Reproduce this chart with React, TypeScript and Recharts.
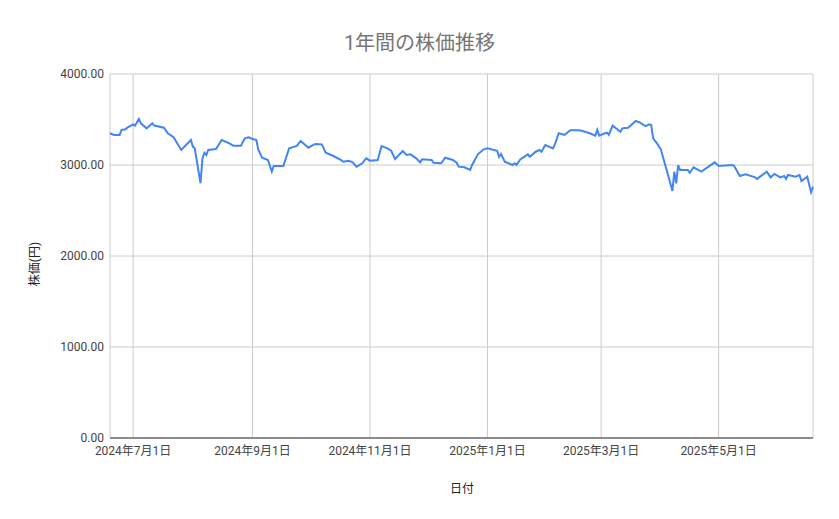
import React from 'react';
import { LineChart, Line, XAxis, YAxis, CartesianGrid } from 'recharts';

// 日付（取引日）と終値
const dates = [
  '2024-06-19', '2024-06-21', '2024-06-24', '2024-06-25', '2024-06-27', '2024-06-28',
  '2024-07-01', '2024-07-02', '2024-07-04', '2024-07-05', '2024-07-08', '2024-07-11',
  '2024-07-12', '2024-07-17', '2024-07-19', '2024-07-22', '2024-07-26', '2024-07-31',
  '2024-08-01', '2024-08-02', '2024-08-05', '2024-08-06', '2024-08-07', '2024-08-08',
  '2024-08-09', '2024-08-13', '2024-08-16', '2024-08-20', '2024-08-22', '2024-08-26',
  '2024-08-28', '2024-08-30', '2024-09-01', '2024-09-03', '2024-09-04', '2024-09-06',
  '2024-09-09', '2024-09-11', '2024-09-12', '2024-09-17', '2024-09-20', '2024-09-24',
  '2024-09-26', '2024-09-30', '2024-10-03', '2024-10-04', '2024-10-07', '2024-10-09',
  '2024-10-13', '2024-10-17', '2024-10-18', '2024-10-21', '2024-10-23', '2024-10-25',
  '2024-10-28', '2024-10-30', '2024-11-01', '2024-11-05', '2024-11-07', '2024-11-10',
  '2024-11-12', '2024-11-14', '2024-11-18', '2024-11-20', '2024-11-22', '2024-11-25',
  '2024-11-27', '2024-11-28', '2024-12-03', '2024-12-04', '2024-12-08', '2024-12-10',
  '2024-12-14', '2024-12-16', '2024-12-17', '2024-12-20', '2024-12-23', '2024-12-24',
  '2024-12-27', '2024-12-30', '2025-01-01', '2025-01-06', '2025-01-07', '2025-01-08',
  '2025-01-10', '2025-01-14', '2025-01-15', '2025-01-16', '2025-01-18', '2025-01-22',
  '2025-01-23', '2025-01-26', '2025-01-28', '2025-01-29', '2025-01-31', '2025-02-04',
  '2025-02-05', '2025-02-07', '2025-02-10', '2025-02-13', '2025-02-17', '2025-02-19',
  '2025-02-23', '2025-02-26', '2025-02-27', '2025-02-28', '2025-03-03', '2025-03-04',
  '2025-03-05', '2025-03-07', '2025-03-11', '2025-03-12', '2025-03-15', '2025-03-19',
  '2025-03-20', '2025-03-21', '2025-03-24', '2025-03-26', '2025-03-27', '2025-03-28',
  '2025-03-30', '2025-04-01', '2025-04-03', '2025-04-05', '2025-04-07', '2025-04-08',
  '2025-04-09', '2025-04-10', '2025-04-11', '2025-04-15', '2025-04-16', '2025-04-18',
  '2025-04-22', '2025-04-29', '2025-05-01', '2025-05-08', '2025-05-09', '2025-05-12',
  '2025-05-15', '2025-05-20', '2025-05-21', '2025-05-22', '2025-05-26', '2025-05-28',
  '2025-05-30', '2025-06-02', '2025-06-04', '2025-06-05', '2025-06-06', '2025-06-10',
  '2025-06-12', '2025-06-13', '2025-06-16', '2025-06-18', '2025-06-19',
];

const prices = [
  3349, 3330, 3330, 3385, 3393, 3410,
  3447, 3433, 3506, 3458, 3403, 3458,
  3433, 3410, 3349, 3305, 3165, 3275,
  3202, 3183, 2799, 3073, 3135, 3110,
  3165, 3176, 3275, 3238, 3212, 3212,
  3293, 3304, 3286, 3275, 3165, 3080,
  3055, 2927, 2989, 2989, 3183, 3209,
  3264, 3190, 3227, 3231, 3227, 3135,
  3099, 3055, 3036, 3047, 3029, 2982,
  3019, 3073, 3047, 3055, 3209, 3183,
  3157, 3066, 3154, 3110, 3117, 3073,
  3029, 3062, 3055, 3025, 3019, 3080,
  3055, 3025, 2982, 2975, 2945, 3000,
  3117, 3172, 3183, 3157, 3091, 3121,
  3036, 3000, 3019, 3000, 3062, 3117,
  3091, 3146, 3165, 3146, 3220, 3183,
  3227, 3349, 3330, 3381, 3381, 3377,
  3349, 3323, 3385, 3323, 3349, 3355,
  3330, 3433, 3366, 3403, 3410, 3484,
  3476, 3469, 3427, 3447, 3440, 3293,
  3238, 3172, 3019, 2871, 2714, 2927,
  2799, 3000, 2945, 2945, 2915, 2975,
  2927, 3029, 2989, 3000, 2992, 2879,
  2897, 2864, 2846, 2864, 2927, 2864,
  2901, 2864, 2879, 2846, 2890, 2871,
  2890, 2824, 2871, 2700, 2761,
];

const tickDates = ['2024-07-01', '2024-09-01', '2024-11-01', '2025-01-01', '2025-03-01', '2025-05-01'];
const yTicks = [0, 1000, 2000, 3000, 4000];

const toTime = (d: string) => Date.parse(d + 'T00:00:00Z');

const data = dates.map((d, i) => ({ t: toTime(d), price: prices[i] }));
const xTicks = tickDates.map(toTime);

const fmtDate = (v: number) => {
  const dt = new Date(v);
  return `${dt.getUTCFullYear()}年${dt.getUTCMonth() + 1}月${dt.getUTCDate()}日`;
};

const FONT = "Roboto, 'Noto Sans CJK JP', sans-serif";

export default function App() {
  return (
    <div
      style={{
        position: 'absolute',
        left: 0,
        top: 0,
        width: 839,
        height: 519,
        background: '#fff',
        fontFamily: FONT,
      }}
    >
      <div
        style={{
          position: 'absolute',
          left: 0,
          width: 839,
          top: 27,
          textAlign: 'center',
          fontSize: 20,
          color: '#757575',
        }}
      >
        1年間の株価推移
      </div>
      <div
        style={{
          position: 'absolute',
          left: 33,
          top: 264,
          transform: 'translate(-50%, -50%) rotate(-90deg)',
          whiteSpace: 'nowrap',
          fontSize: 12,
          color: '#222',
        }}
      >
        株価(円)
      </div>
      <div
        style={{
          position: 'absolute',
          left: 462,
          top: 487,
          transform: 'translate(-50%, -50%)',
          fontSize: 12,
          color: '#222',
        }}
      >
        日付
      </div>
      <LineChart
        width={839}
        height={519}
        data={data}
        margin={{ top: 74, right: 26, bottom: 51, left: 50 }}
        style={{ fontFamily: FONT }}
      >
        <CartesianGrid stroke="#cccccc" strokeWidth={1} />
        <XAxis
          dataKey="t"
          type="number"
          scale="time"
          domain={['dataMin', 'dataMax']}
          ticks={xTicks}
          tickFormatter={fmtDate}
          tickLine={false}
          axisLine={{ stroke: '#333333', strokeWidth: 1 }}
          tick={{ fontSize: 12, fill: '#444444' }}
          height={30}
          interval={0}
        />
        <YAxis
          domain={[0, 4000]}
          ticks={yTicks}
          tickFormatter={(v: number) => v.toFixed(2)}
          tickLine={false}
          axisLine={false}
          tick={{ fontSize: 12, fill: '#444444' }}
          tickSize={4}
          width={60}
        />
        <Line
          type="linear"
          dataKey="price"
          stroke="#4285f4"
          strokeWidth={2}
          dot={false}
          isAnimationActive={false}
        />
      </LineChart>
    </div>
  );
}
